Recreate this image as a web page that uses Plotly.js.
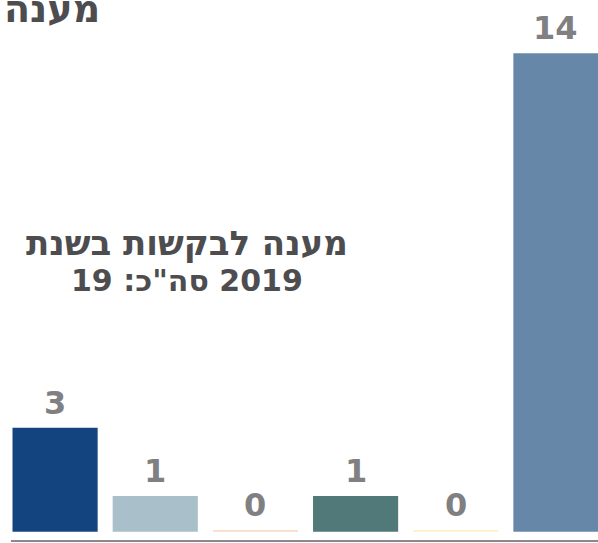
<!DOCTYPE html>
<html>
<head>
<meta charset="utf-8">
<script src="https://cdn.plot.ly/plotly-3.0.1.min.js"></script>
<style>html,body{margin:0;padding:0;background:#fff;}#chart{width:598px;height:543px;}</style>
</head>
<body>
<div id="chart"></div>
<script>
const categories = ['c1', 'c2', 'c3', 'c4', 'c5', 'c6'];
const values = [3, 1, 0, 1, 0, 14];
const barColors = ['#134480', '#a9c0ca', '#f9dcc8', '#52797a', '#fdf0c5', '#6787a8'];
const labels = ['3', '1', '0', '1', '0', '14'];
const titleText = 'מענה';
const noteLine1 = 'מענה לבקשות בשנת';
const noteLine2 = '\u200F2019 סה"כ: 19\u200F';

const FONT = '"DejaVu Sans", "Liberation Sans", sans-serif';

const trace = {
  type: 'bar',
  x: categories,
  y: values,
  base: 0,
  marker: {color: barColors, line: {width: 0}},
  width: 0.85,
  hoverinfo: 'none'
};

// thin strip so zero-value bars remain visible as a baseline line
const zeroStrip = {
  type: 'bar',
  x: categories,
  y: values.map(v => 0.05),
  base: -0.05,
  marker: {color: barColors},
  width: 0.85,
  hoverinfo: 'none'
};

const valueAnnotations = categories.map((c, i) => ({
  x: c, y: values[i], xref: 'x', yref: 'y',
  text: '<b>' + labels[i] + '</b>', showarrow: false,
  yanchor: 'bottom', yshift: 4,
  font: {family: FONT, size: 32, color: '#808083'}
}));

const layout = {
  width: 598, height: 543,
  margin: {l: 5, r: 0, t: 0, b: 11},
  paper_bgcolor: '#ffffff', plot_bgcolor: '#ffffff',
  barmode: 'overlay',
  showlegend: false,
  xaxis: {type: 'category', range: [-0.5, 5.42], showgrid: false, zeroline: false, showline: false, showticklabels: false, ticks: ''},
  yaxis: {range: [-0.06, 15.56], showgrid: false, zeroline: false, showline: false, showticklabels: false, ticks: ''},
  annotations: [
    {xref: 'paper', yref: 'paper', x: 0, y: 1, xanchor: 'left', yanchor: 'middle', yshift: -9, xshift: -3,
     text: '<b>' + titleText + '</b>', showarrow: false,
     font: {family: FONT, size: 38, color: '#4d4d4f'}},
    {xref: 'paper', yref: 'paper', x: 0.307, y: 0.5357, xanchor: 'center', yanchor: 'middle', yshift: 4,
     text: '<b>' + noteLine1 + '</b>', showarrow: false, align: 'center',
     font: {family: FONT, size: 34, color: '#4d4d4f'}},
    {xref: 'paper', yref: 'paper', x: 0.307, y: 0.468, xanchor: 'center', yanchor: 'middle', yshift: 3,
     text: '<b>' + noteLine2 + '</b>', showarrow: false, align: 'center',
     font: {family: FONT, size: 30, color: '#4d4d4f'}}
  ].concat(valueAnnotations),
  shapes: [
    {type: 'line', xref: 'paper', yref: 'paper', x0: 0.01, x1: 1, y0: -0.0169, y1: -0.0169,
     line: {color: '#8a8a8c', width: 2}}
  ]
};

Plotly.newPlot('chart', [zeroStrip, trace], layout, {displayModeBar: false, staticPlot: true});
</script>
</body>
</html>
